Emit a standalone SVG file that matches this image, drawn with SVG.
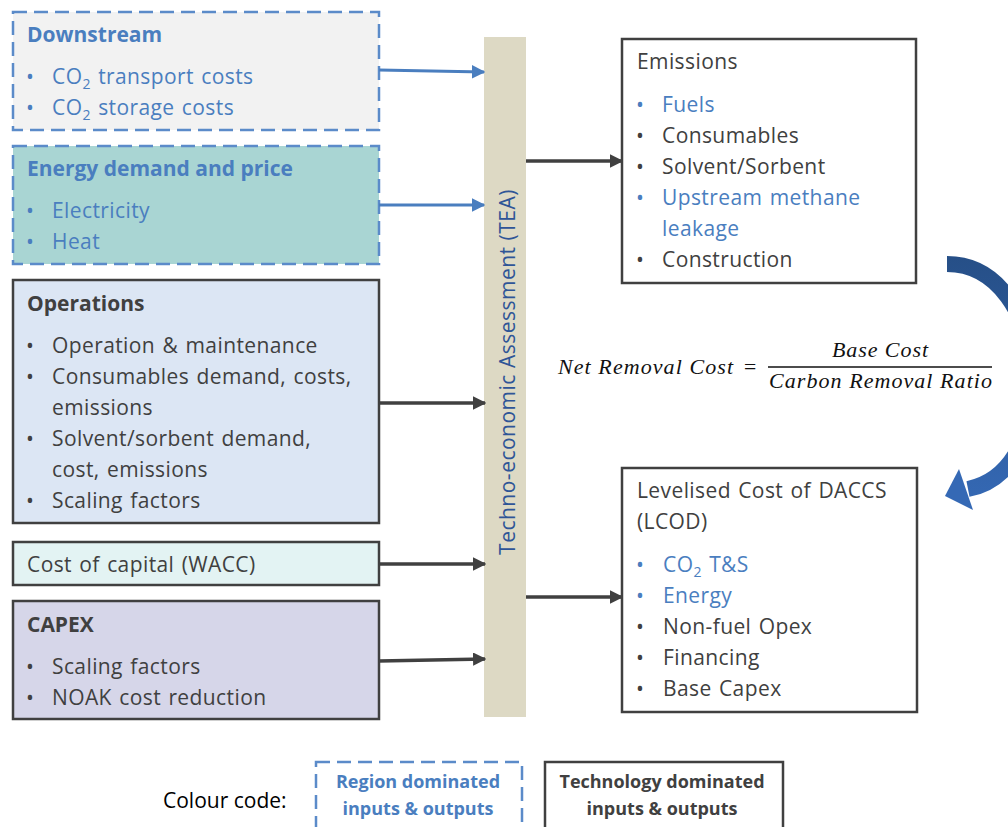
<svg xmlns="http://www.w3.org/2000/svg" width="1008" height="827" viewBox="0 0 1008 827">
<style>
  text { font-family: "Open Sans", "Liberation Sans", sans-serif; font-size: 21px; }
  .b { fill: #4a7ebf; letter-spacing: 0.4px; word-spacing: 1.5px; }
  .d { fill: #404040; letter-spacing: 0.4px; word-spacing: 1.5px; }
  .hb { font-weight: bold; fill: #4a7ebf; }
  .hd { font-weight: bold; fill: #404040; }
  .dash { stroke: #5b8bc9; stroke-width: 2.5; stroke-dasharray: 14 7; }
  .solid { stroke: #404040; stroke-width: 2.5; }
  .math { font-family: "Liberation Serif", "DejaVu Serif", serif; font-style: italic; font-size: 22px; fill: #111; }
  .leg { font-size: 18px; font-weight: bold; text-anchor: middle; }
  .cb { stroke: #4a7ebf; stroke-width: 3; fill: none; }
  .cd { stroke: #404040; stroke-width: 3.5; fill: none; }
</style>
<defs>
  <marker id="ab" viewBox="0 0 10 10" refX="9" refY="5" markerWidth="4.5" markerHeight="4.5" markerUnits="strokeWidth" orient="auto">
    <path d="M0,0 L10,5 L0,10 z" fill="#4a7ebf"/>
  </marker>
  <marker id="ad" viewBox="0 0 10 10" refX="9" refY="5" markerWidth="3.8" markerHeight="3.8" markerUnits="strokeWidth" orient="auto">
    <path d="M0,0 L10,5 L0,10 z" fill="#404040"/>
  </marker>
  <linearGradient id="cg" gradientUnits="userSpaceOnUse" x1="0" y1="255" x2="0" y2="510">
    <stop offset="0" stop-color="#264f87"/>
    <stop offset="1" stop-color="#3569b5"/>
  </linearGradient>
</defs>

<g id="downstream">
  <rect x="13" y="12" width="366" height="118" fill="#f2f2f2" class="dash"/>
  <text x="27" y="42" class="hb">Downstream</text>
  <text x="26" y="84" class="b">•</text>
  <text x="52" y="84" class="b">CO<tspan dy="5" font-size="14">2</tspan><tspan dy="-5"> transport costs</tspan></text>
  <text x="26" y="115" class="b">•</text>
  <text x="52" y="115" class="b">CO<tspan dy="5" font-size="14">2</tspan><tspan dy="-5"> storage costs</tspan></text>
</g>

<g id="energy">
  <rect x="13" y="146" width="366" height="118" fill="#a9d5d3" class="dash"/>
  <text x="27" y="176" class="hb">Energy demand and price</text>
  <text x="26" y="218" class="b">•</text>
  <text x="52" y="218" class="b">Electricity</text>
  <text x="26" y="249" class="b">•</text>
  <text x="52" y="249" class="b">Heat</text>
</g>

<g id="operations">
  <rect x="13" y="280" width="366" height="243" fill="#dce6f4" class="solid"/>
  <text x="27" y="311" class="hd">Operations</text>
  <text x="26" y="353" class="d">•</text>
  <text x="52" y="353" class="d">Operation &amp; maintenance</text>
  <text x="26" y="384" class="d">•</text>
  <text x="52" y="384" class="d">Consumables demand, costs,</text>
  <text x="52" y="415" class="d">emissions</text>
  <text x="26" y="446" class="d">•</text>
  <text x="52" y="446" class="d">Solvent/sorbent demand,</text>
  <text x="52" y="477" class="d">cost, emissions</text>
  <text x="26" y="508" class="d">•</text>
  <text x="52" y="508" class="d">Scaling factors</text>
</g>

<g id="wacc">
  <rect x="13" y="542" width="366" height="43" fill="#e3f3f3" class="solid"/>
  <text x="27" y="572" class="d">Cost of capital (WACC)</text>
</g>

<g id="capex">
  <rect x="13" y="601" width="366" height="118" fill="#d6d6e9" class="solid"/>
  <text x="27" y="632" class="hd">CAPEX</text>
  <text x="26" y="674" class="d">•</text>
  <text x="52" y="674" class="d">Scaling factors</text>
  <text x="26" y="705" class="d">•</text>
  <text x="52" y="705" class="d">NOAK cost reduction</text>
</g>

<g id="tea">
  <rect x="484" y="37" width="42" height="680" fill="#ddd9c4"/>
  <text transform="translate(515,372) rotate(-90)" text-anchor="middle" font-size="22" letter-spacing="0.5" fill="#2f5597">Techno-economic Assessment (TEA)</text>
</g>

<g id="emissions">
  <rect x="622" y="39" width="294" height="244" fill="#ffffff" class="solid"/>
  <text x="637" y="69" class="d">Emissions</text>
  <text x="636" y="112" class="b">•</text>
  <text x="662" y="112" class="b">Fuels</text>
  <text x="636" y="143" class="d">•</text>
  <text x="662" y="143" class="d">Consumables</text>
  <text x="636" y="174" class="d">•</text>
  <text x="662" y="174" class="d">Solvent/Sorbent</text>
  <text x="636" y="205" class="b">•</text>
  <text x="662" y="205" class="b">Upstream methane</text>
  <text x="662" y="236" class="b">leakage</text>
  <text x="636" y="267" class="d">•</text>
  <text x="662" y="267" class="d">Construction</text>
</g>

<g id="lcod">
  <rect x="622" y="468" width="295" height="244" fill="#ffffff" class="solid"/>
  <text x="637" y="498" class="d">Levelised Cost of DACCS</text>
  <text x="637" y="529" class="d">(LCOD)</text>
  <text x="636" y="572" class="b">•</text>
  <text x="663" y="572" class="b">CO<tspan dy="5" font-size="14">2</tspan><tspan dy="-5"> T&amp;S</tspan></text>
  <text x="636" y="603" class="b">•</text>
  <text x="663" y="603" class="b">Energy</text>
  <text x="636" y="634" class="d">•</text>
  <text x="663" y="634" class="d">Non-fuel Opex</text>
  <text x="636" y="665" class="d">•</text>
  <text x="663" y="665" class="d">Financing</text>
  <text x="636" y="696" class="d">•</text>
  <text x="663" y="696" class="d">Base Capex</text>
</g>

<g id="formula">
  <text x="558" y="374" class="math" textLength="175" lengthAdjust="spacing">Net Removal Cost</text>
  <text x="750" y="374" class="math" text-anchor="middle">=</text>
  <text x="880" y="357" class="math" text-anchor="middle" textLength="96" lengthAdjust="spacing">Base Cost</text>
  <line x1="768" y1="367" x2="992" y2="367" stroke="#111" stroke-width="1.6"/>
  <text x="769" y="388" class="math" textLength="223" lengthAdjust="spacing">Carbon Removal Ratio</text>
</g>

<g id="connectors">
  <line x1="379" y1="70" x2="484" y2="72" class="cb" marker-end="url(#ab)"/>
  <line x1="379" y1="205" x2="484" y2="205" class="cb" marker-end="url(#ab)"/>
  <line x1="379" y1="403" x2="485" y2="403" class="cd" marker-end="url(#ad)"/>
  <line x1="379" y1="564" x2="485" y2="564" class="cd" marker-end="url(#ad)"/>
  <line x1="379" y1="661" x2="485" y2="659" class="cd" marker-end="url(#ad)"/>
  <line x1="526" y1="161" x2="622" y2="161" class="cd" marker-end="url(#ad)"/>
  <line x1="526" y1="597" x2="622" y2="597" class="cd" marker-end="url(#ad)"/>
  <path d="M947,264 C1050,264 1065,470 968,489" fill="none" stroke="url(#cg)" stroke-width="16"/>
  <polygon points="945,496 959,469 973,510" fill="#3569b5"/>
</g>

<g id="legend">
  <text x="163" y="808" fill="#000">Colour code:</text>
  <rect x="316" y="762" width="206" height="80" fill="none" class="dash"/>
  <text x="418" y="788" class="leg" fill="#4a7ebf">Region dominated</text>
  <text x="418" y="815" class="leg" fill="#4a7ebf">inputs &amp; outputs</text>
  <rect x="545" y="762" width="238" height="80" fill="none" class="solid"/>
  <text x="662" y="788" class="leg" fill="#404040">Technology dominated</text>
  <text x="662" y="815" class="leg" fill="#404040">inputs &amp; outputs</text>
</g>
</svg>
